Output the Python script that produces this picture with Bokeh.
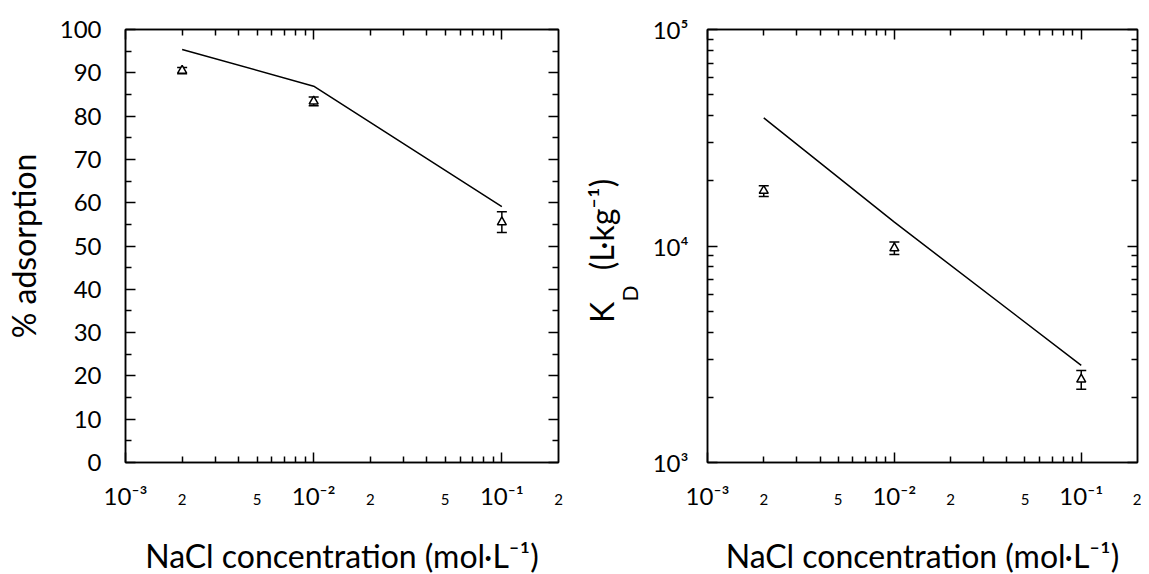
from bokeh.plotting import figure
from bokeh.layouts import row
from bokeh.models import (ColumnDataSource, FixedTicker, LinearAxis, LogAxis, Whisker,
                          TeeHead, CustomJSTickFormatter, Range1d, LinearScale)
from bokeh.embed import file_html
from bokeh.resources import INLINE

# ---------------- data ----------------
conc = [0.002, 0.01, 0.1]                      # NaCl concentration (mol/L)
ads_exp = [90.5, 83.4, 55.5]                   # % adsorption, experimental
ads_err = [0.7, 1.0, 2.4]                      # error bar half-width
ads_model = [95.4, 86.9, 59.1]                 # % adsorption, model line
kd_exp = [18000, 9770, 2420]                   # K_D experimental (L/kg)
kd_lo = [16950, 9140, 2180]
kd_hi = [19000, 10430, 2660]
kd_model = [39100, 12880, 2810]                # K_D model line

x_major = [1e-3, 1e-2, 1e-1]
x_major_labels = ["10\u207b\u00b3", "10\u207b\u00b2", "10\u207b\u00b9"]
x_minor = [2e-3, 3e-3, 4e-3, 5e-3, 6e-3, 7e-3, 8e-3, 9e-3,
           2e-2, 3e-2, 4e-2, 5e-2, 6e-2, 7e-2, 8e-2, 9e-2]
x_minor_labeled = [2e-3, 5e-3, 2e-2, 5e-2, 2e-1]
x_minor_labels = ["2", "5", "2", "5", "2"]
ads_major = [0, 10, 20, 30, 40, 50, 60, 70, 80, 90, 100]
ads_minor = [5, 15, 25, 35, 45, 55, 65, 75, 85, 95]
kd_major = [1e3, 1e4, 1e5]
kd_major_labels = ["10\u00b3", "10\u2074", "10\u2075"]
kd_minor = [2e3, 3e3, 4e3, 5e3, 6e3, 7e3, 8e3, 9e3,
            2e4, 3e4, 4e4, 5e4, 6e4, 7e4, 8e4, 9e4]
x_title = "NaCl concentration (mol\u00b7L\u207b\u00b9)"
y1_title = "% adsorption"
# K_D title pieces, placed along the frame height (pixels from the frame bottom)
kd_title_main = {150: "K", 238: "(L\u00b7kg\u207b\u00b9)"}
kd_title_sub = {169: "D"}

FONT = "Lato"
LW = 1.5
FRAME_H = 433
blank = CustomJSTickFormatter(code="return ''")


def style_axis(ax, font_size="22px", standoff=16):
    ax.axis_line_width = LW
    ax.axis_line_color = "black"
    ax.major_tick_in = 10
    ax.major_tick_out = 0
    ax.minor_tick_in = 6
    ax.minor_tick_out = 0
    ax.major_tick_line_width = LW
    ax.minor_tick_line_width = LW
    ax.major_label_text_font = FONT
    ax.major_label_text_font_size = font_size
    ax.major_label_text_color = "black"
    ax.major_label_standoff = standoff
    ax.axis_label_text_font = FONT
    ax.axis_label_text_font_style = "normal"
    ax.axis_label_text_font_size = "32px"
    ax.axis_label_text_color = "black"


def bare(ax):
    ax.axis_line_color = None
    ax.major_tick_line_color = None
    ax.minor_tick_line_color = None


def mirror(ax):
    style_axis(ax, "0px", 0)
    ax.axis_label_standoff = 0


def base_fig(frame_w, y_type, y_range, min_left, min_right):
    p = figure(frame_width=frame_w, frame_height=FRAME_H, x_axis_type="log", y_axis_type=y_type,
               x_range=(1e-3, 0.2), y_range=y_range,
               output_backend="svg", toolbar_location=None,
               min_border_left=min_left, min_border_right=min_right,
               min_border_top=29, min_border_bottom=102)
    p.xgrid.visible = False
    p.ygrid.visible = False
    p.outline_line_color = "black"
    p.outline_line_width = LW
    p.background_fill_color = "white"
    p.border_fill_color = "white"
    return p


def x_axes(p):
    xt = FixedTicker(ticks=x_major, minor_ticks=x_minor)
    ax = p.xaxis[0]
    ax.ticker = xt
    ax.major_label_overrides = {v: s for v, s in zip(x_major, x_major_labels)}
    style_axis(ax, "24px", 18)
    # second axis below: the small "2" / "5" labels, pulled up beside the decade labels
    lab = LogAxis(ticker=FixedTicker(ticks=x_minor_labeled, minor_ticks=[]))
    lab.major_label_overrides = {v: s for v, s in zip(x_minor_labeled, x_minor_labels)}
    style_axis(lab, "15px", -19)
    bare(lab)
    lab.axis_label = x_title
    lab.axis_label_standoff = 28
    p.add_layout(lab, "below")
    top = LogAxis(ticker=xt, formatter=blank)
    mirror(top)
    p.add_layout(top, "above")


# ---------------- left plot ----------------
p1 = base_fig(433, "linear", (0, 100), 118, 20)
x_axes(p1)
yt1 = FixedTicker(ticks=ads_major, minor_ticks=ads_minor)
ay = p1.yaxis[0]
ay.ticker = yt1
style_axis(ay, "24px", 24)
ay.axis_label = y1_title
ay.axis_label_standoff = 14
r1 = LinearAxis(ticker=yt1, formatter=blank)
mirror(r1)
p1.add_layout(r1, "right")

p1.line(conc, ads_model, line_color="black", line_width=LW)
src1 = ColumnDataSource(dict(x=conc, y=ads_exp,
                             lo=[a - e for a, e in zip(ads_exp, ads_err)],
                             hi=[a + e for a, e in zip(ads_exp, ads_err)]))
p1.add_layout(Whisker(base="x", lower="lo", upper="hi", source=src1, line_width=LW,
                      upper_head=TeeHead(size=10, line_width=LW),
                      lower_head=TeeHead(size=10, line_width=LW)))
p1.scatter("x", "y", source=src1, marker="triangle", size=9, fill_color="white",
           line_color="black", line_width=LW)

# ---------------- right plot ----------------
p2 = base_fig(430, "log", (1e3, 1e5), 128, 4)
x_axes(p2)
yt2 = FixedTicker(ticks=kd_major, minor_ticks=kd_minor)
ay2 = p2.yaxis[0]
ay2.ticker = yt2
ay2.major_label_overrides = {v: s for v, s in zip(kd_major, kd_major_labels)}
style_axis(ay2, "24px", 19)
r2 = LogAxis(ticker=yt2, formatter=blank)
mirror(r2)
p2.add_layout(r2, "right")

# K_D (L.kg^-1) title built from two label-only axes on a linear pixel range of the frame
p2.extra_y_ranges = {"px": Range1d(0, FRAME_H)}
p2.extra_y_scales = {"px": LinearScale()}
sub_ax = LinearAxis(y_range_name="px", ticker=FixedTicker(ticks=list(kd_title_sub), minor_ticks=[]),
                    major_label_overrides=kd_title_sub)
style_axis(sub_ax, "21px", 8)
bare(sub_ax)
sub_ax.major_label_orientation = "vertical"
p2.add_layout(sub_ax, "left")
main_ax = LinearAxis(y_range_name="px", ticker=FixedTicker(ticks=list(kd_title_main), minor_ticks=[]),
                     major_label_overrides=kd_title_main)
style_axis(main_ax, "32px", -7)
bare(main_ax)
main_ax.major_label_orientation = "vertical"
p2.add_layout(main_ax, "left")

p2.line(conc, kd_model, line_color="black", line_width=LW)
src2 = ColumnDataSource(dict(x=conc, y=kd_exp, lo=kd_lo, hi=kd_hi))
p2.add_layout(Whisker(base="x", lower="lo", upper="hi", source=src2, line_width=LW,
                      upper_head=TeeHead(size=10, line_width=LW),
                      lower_head=TeeHead(size=10, line_width=LW)))
p2.scatter("x", "y", source=src2, marker="triangle", size=9, fill_color="white",
           line_color="black", line_width=LW)

layout = row(p1, p2)
open("out.html", "w").write(file_html(layout, INLINE))
